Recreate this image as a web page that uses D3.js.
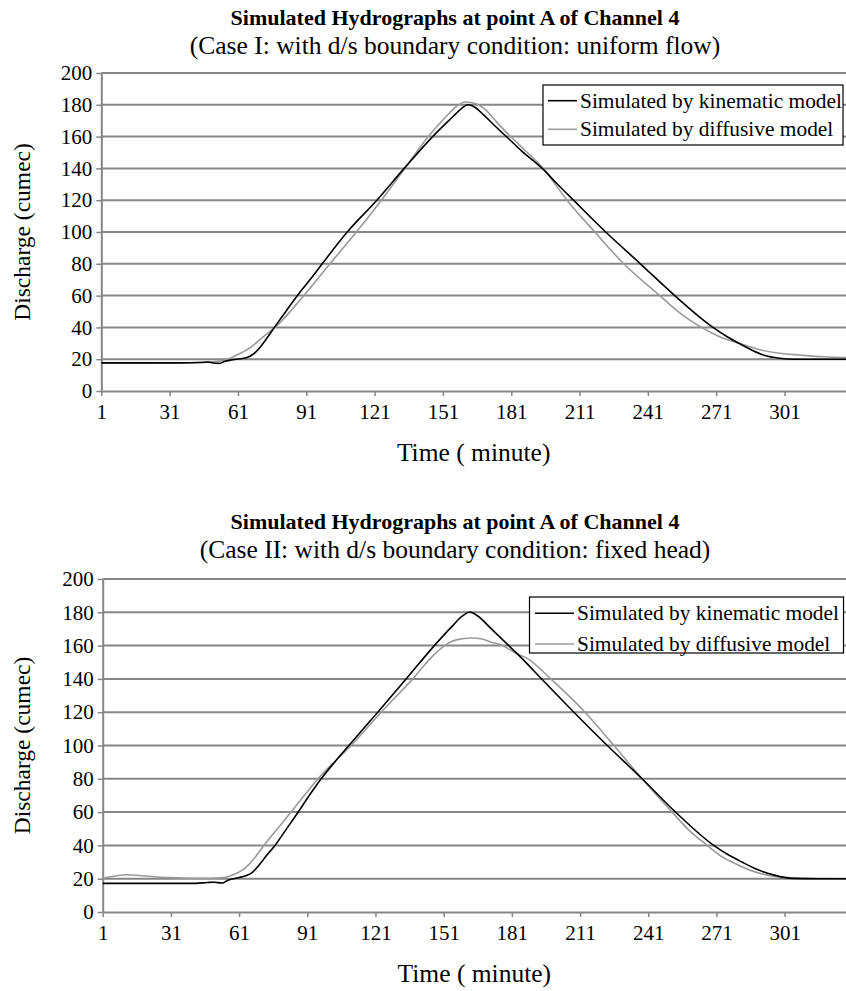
<!DOCTYPE html>
<html>
<head>
<meta charset="utf-8">
<script src="https://cdn.jsdelivr.net/npm/d3@7/dist/d3.min.js"></script>
<style>
  html, body { margin: 0; padding: 0; background: #fff; }
  svg { display: block; }
  text { font-family: "Liberation Serif", "Times New Roman", serif; fill: #000; }
</style>
</head>
<body>
<svg id="chart" width="846" height="991"></svg>
<script>
// Time axis labels (minutes) and discharge axis labels (cumec)
const timeTicks = [1, 31, 61, 91, 121, 151, 181, 211, 241, 271, 301];
const flowTicks = [0, 20, 40, 60, 80, 100, 120, 140, 160, 180, 200];

// Case I (d/s boundary: uniform flow) — [time (min), discharge (cumec)]
const caseIKinematic = [
  [1, 17.7], [35, 17.7], [45, 17.9], [48, 18.2], [50, 17.6], [53, 17.4], [55, 18.5],
  [58, 19.5], [62, 20.3], [65, 21.1], [67, 22.5], [69, 24.8], [71, 28], [73, 31.8],
  [75, 35.8], [77, 40], [81, 48], [85, 56], [89, 63.5], [93.5, 71.5], [98, 80],
  [109, 100], [122, 120], [134, 140], [146.5, 160], [155, 172], [159, 177.5],
  [162, 180], [165, 178.5], [169, 173.5], [174, 166.5], [180, 158.5], [185.5, 151],
  [195, 139.5], [201, 130.5], [208, 120.5], [222.5, 100], [237.7, 80], [252.8, 60],
  [269.6, 40], [276, 34], [281, 30], [287, 25.5], [292, 22.5], [298.8, 20.6],
  [305, 20], [328, 20]
];
const caseIDiffusive = [
  [1, 17.7], [40, 17.8], [48, 18.3], [53, 18.8], [56, 19.8], [60.5, 22.6],
  [66.4, 27.3], [72.2, 34.2], [77.3, 40], [83.9, 49.9], [88.3, 57.2], [101.4, 80],
  [113, 100], [124, 120], [134.3, 140], [144.6, 160], [152, 172], [157, 179],
  [160.6, 181.8], [164, 181.3], [170, 176.5], [175, 168.5], [180.4, 160.5],
  [187.7, 150.5], [195, 140], [205.5, 120], [217.7, 100], [230.4, 80], [246.2, 60],
  [256, 48], [264.5, 40], [272, 34.5], [281, 30], [290, 26], [298.8, 23.7],
  [307.6, 22.6], [318, 21.5], [328, 21]
];

// Case II (d/s boundary: fixed head)
const caseIIKinematic = [
  [1, 17.2], [42, 17.2], [47, 17.7], [50, 17.9], [53.5, 17.4], [56, 19], [60, 20.4],
  [64, 21.8], [67, 24], [70, 28.5], [73, 33.8], [76.8, 40], [81.8, 49.8], [86.8, 59.6],
  [91.8, 69.8], [97.1, 80], [103, 90], [109.6, 100.5], [122, 120], [134.5, 140],
  [146.9, 160], [155, 172], [159, 177.5], [162.5, 180.2], [166, 177.8], [172, 170],
  [180, 159.5], [186.4, 151], [193.7, 140.5], [208.3, 120], [223, 100], [238.3, 80],
  [253, 60], [269.8, 40], [276, 34.5], [282.2, 30], [289, 25.5], [296.9, 22],
  [304.2, 20.2], [315, 20], [328, 20]
];
const caseIIDiffusive = [
  [1, 20.3], [6, 21.5], [11.6, 22.4], [18, 21.8], [25.5, 21], [33, 20.6], [40, 20.3],
  [48, 20.3], [54.6, 20.7], [58.4, 22.4], [62.8, 25.4], [67.2, 31.4], [71.6, 39.4],
  [74.5, 44.4], [80, 53.5], [85, 62], [90, 70.5], [95.7, 80], [110.3, 100], [123.5, 120],
  [137.4, 140], [146, 153.5], [150, 158.5], [153, 161.5], [157, 163.6], [163, 164.6],
  [168, 164], [171, 162.5], [176.9, 160], [182, 156], [188.6, 151.6], [198.1, 140],
  [213.2, 120], [225.9, 100], [238.3, 80], [251.5, 60], [259, 49], [266.9, 40],
  [272, 34.5], [277.8, 30], [286, 25], [293.9, 22], [304, 20.5], [315, 20.1], [328, 20]
];

const chartTitle = "Simulated Hydrographs at point A of Channel 4";
const subtitles = [
  "(Case I: with d/s boundary condition: uniform flow)",
  "(Case II: with d/s boundary condition: fixed head)"
];
const seriesNames = ["Simulated by kinematic model", "Simulated by diffusive model"];
const xAxisTitle = "Time ( minute)";
const yAxisTitle = "Discharge (cumec)";

const svg = d3.select("#chart");
const W = 846;
const gridColor = "#868686";
const kinColor = "#000000";
const difColor = "#9a9a9a";

function drawPanel(p) {
  const g = svg.append("g");
  const x = d3.scaleLinear().domain([1, 328]).range([p.left, W]);
  const y = d3.scaleLinear().domain([0, 200]).range([p.bottom, p.top]);

  // titles
  g.append("text").attr("x", 455).attr("y", p.titleY)
    .attr("text-anchor", "middle").attr("font-weight", "bold").attr("font-size", 22)
    .text(chartTitle);
  g.append("text").attr("x", 455).attr("y", p.subY)
    .attr("text-anchor", "middle").attr("font-size", 25.5)
    .text(p.subtitle);

  // horizontal gridlines
  g.append("g").selectAll("line").data(flowTicks.filter(d => d > 0)).join("line")
    .attr("x1", p.left).attr("x2", W)
    .attr("y1", d => y(d)).attr("y2", d => y(d))
    .attr("stroke", gridColor).attr("stroke-width", 2);

  // axes
  const xAxis = g.append("g").attr("transform", `translate(0,${p.bottom})`)
    .call(d3.axisBottom(x).tickValues(timeTicks).tickFormat(d3.format("d"))
      .tickSize(5).tickSizeOuter(0).tickPadding(8));
  const yAxis = g.append("g").attr("transform", `translate(${p.left},0)`)
    .call(d3.axisLeft(y).tickValues(flowTicks).tickSize(5).tickSizeOuter(0).tickPadding(4));
  [xAxis, yAxis].forEach(a => {
    a.select(".domain").attr("stroke", gridColor).attr("stroke-width", 2);
    a.selectAll(".tick line").attr("stroke", gridColor).attr("stroke-width", 1.5);
    a.selectAll(".tick text").attr("font-family", "Liberation Serif").attr("font-size", 21).attr("fill", "#000");
  });

  // axis titles
  g.append("text").attr("x", (p.left + W) / 2).attr("y", p.bottom + 70)
    .attr("text-anchor", "middle").attr("font-size", 25.5).text(xAxisTitle);
  g.append("text")
    .attr("transform", `translate(30,${(p.top + p.bottom) / 2}) rotate(-90)`)
    .attr("text-anchor", "middle").attr("font-size", 23.5).text(yAxisTitle);

  // hydrograph lines
  const line = d3.line().x(d => x(d[0])).y(d => y(d[1])).curve(d3.curveMonotoneX);
  g.append("path").datum(p.dif).attr("d", line)
    .attr("fill", "none").attr("stroke", difColor).attr("stroke-width", 1.6);
  g.append("path").datum(p.kin).attr("d", line)
    .attr("fill", "none").attr("stroke", kinColor).attr("stroke-width", 1.6);

  // legend
  const L = p.legend;
  const lg = g.append("g");
  lg.append("rect").attr("x", L.x).attr("y", L.y).attr("width", L.w).attr("height", L.h)
    .attr("fill", "#fff").attr("stroke", "#000").attr("stroke-width", 1.2);
  [kinColor, difColor].forEach((c, i) => {
    const ry = L.rows[i];
    lg.append("line").attr("x1", L.lx1).attr("x2", L.lx2).attr("y1", ry).attr("y2", ry)
      .attr("stroke", c).attr("stroke-width", 1.6);
    lg.append("text").attr("x", L.tx).attr("y", ry + 7).attr("font-size", 21.4)
      .text(seriesNames[i]);
  });
}

drawPanel({
  left: 101.3, top: 73, bottom: 391, titleY: 25, subY: 54,
  subtitle: subtitles[0], kin: caseIKinematic, dif: caseIDiffusive,
  legend: { x: 543, y: 85, w: 300, h: 60, rows: [100.7, 129.3], lx1: 548, lx2: 577, tx: 580 }
});
drawPanel({
  left: 102.7, top: 579, bottom: 912, titleY: 529, subY: 558,
  subtitle: subtitles[1], kin: caseIIKinematic, dif: caseIIDiffusive,
  legend: { x: 529.5, y: 597, w: 314, h: 56, rows: [613.3, 644], lx1: 535, lx2: 574, tx: 577 }
});
</script>
</body>
</html>
